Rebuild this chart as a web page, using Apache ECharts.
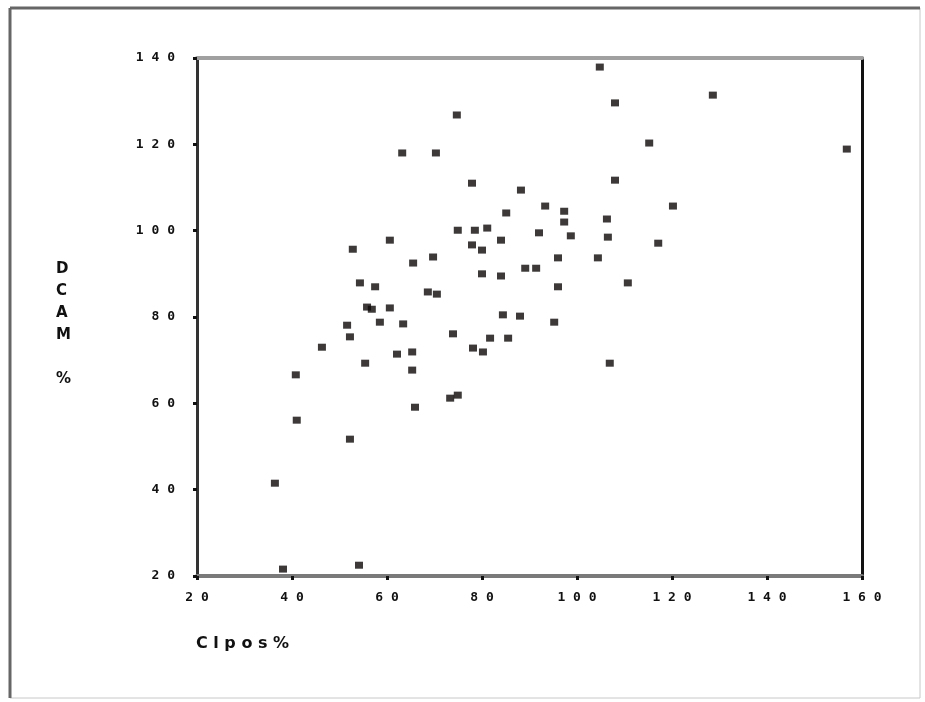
<!DOCTYPE html>
<html>
<head>
<meta charset="utf-8">
<script src="https://cdn.jsdelivr.net/npm/echarts@6/dist/echarts.min.js"></script>
<style>
html,body{margin:0;padding:0;background:#fff;}
#chart{width:925px;height:702px;}
</style>
</head>
<body>
<div id="chart"></div>
<script>
// Tick values
var xTicks = [20, 40, 60, 80, 100, 120, 140, 160];
var yTicks = [20, 40, 60, 80, 100, 120, 140];

// Clpos% (x) and DCAM % (y) values
var clpos = [104.8,108.0,128.6,74.7,115.2,63.2,70.3,156.8,
  77.9,88.2,108.0,120.2,93.3,97.3,97.3,85.1,106.3,
  74.9,78.5,81.1,84.0,77.9,80.0,92.0,98.7,106.5,117.1,
  60.6,52.8,65.5,69.7,96.0,104.4,80.0,84.0,89.1,91.4,
  96.0,110.7,54.3,57.5,68.6,70.5,55.8,56.8,60.6,
  58.5,63.4,51.6,52.2,73.9,84.4,88.0,95.2,81.7,85.5,
  78.1,80.2,46.3,62.1,65.3,55.4,65.3,106.9,40.8,
  41.0,65.9,73.3,74.9,52.2,36.4,38.1,54.1];
var dcam = [137.9,129.6,131.4,126.8,120.3,118.0,118.0,118.9,
  111.0,109.4,111.7,105.7,105.7,104.5,102.0,104.1,102.7,
  100.1,100.1,100.6,97.8,96.7,95.5,99.5,98.8,98.5,97.1,
  97.8,95.7,92.5,93.9,93.7,93.7,90.0,89.5,91.3,91.3,
  87.0,87.9,87.9,87.0,85.8,85.3,82.3,81.8,82.1,
  78.8,78.4,78.1,75.4,76.1,80.5,80.2,78.8,75.1,75.1,
  72.8,71.9,73.0,71.4,71.9,69.3,67.7,69.3,66.6,
  56.1,59.1,61.2,61.9,51.7,41.5,21.6,22.5];

var points = clpos.map(function (x, i) { return [x, dcam[i]]; });

var chart = echarts.init(document.getElementById('chart'), null, {renderer: 'canvas'});

var labelStyle = {
  fontFamily: 'DejaVu Sans Mono',
  fontWeight: 'bold',
  fontSize: 13,
  color: '#111',
  formatter: function (v) { return String(v).split('').join(' '); }
};

chart.setOption({
  backgroundColor: '#fff',
  animation: false,
  grid: {left: 197, top: 58, right: 63, bottom: 126, containLabel: false},
  xAxis: [{
    type: 'value', min: xTicks[0], max: xTicks[xTicks.length - 1], interval: 20,
    position: 'bottom',
    axisLine: {show: true, lineStyle: {color: '#7a7a7a', width: 4}},
    axisTick: {show: true, length: 4, lineStyle: {color: '#111', width: 3}},
    axisLabel: Object.assign({margin: 15}, labelStyle),
    splitLine: {show: false}
  }, {
    type: 'value', min: xTicks[0], max: xTicks[xTicks.length - 1], interval: 20,
    position: 'top',
    axisLine: {show: true, lineStyle: {color: '#a0a0a0', width: 4}},
    axisTick: {show: false}, axisLabel: {show: false}, splitLine: {show: false}
  }],
  yAxis: [{
    type: 'value', min: yTicks[0], max: yTicks[yTicks.length - 1], interval: 20,
    position: 'left',
    axisLine: {show: true, lineStyle: {color: '#333', width: 3}},
    axisTick: {show: true, length: 4, lineStyle: {color: '#111', width: 3}},
    axisLabel: Object.assign({margin: 22}, labelStyle),
    splitLine: {show: false}
  }, {
    type: 'value', min: yTicks[0], max: yTicks[yTicks.length - 1], interval: 20,
    position: 'right',
    axisLine: {show: true, lineStyle: {color: '#111', width: 3}},
    axisTick: {show: false}, axisLabel: {show: false}, splitLine: {show: false}
  }],
  series: [{
    type: 'scatter',
    xAxisIndex: 0, yAxisIndex: 0,
    data: points,
    symbol: 'rect',
    symbolSize: [8, 7],
    itemStyle: {color: '#0d0808'}
  }],
  graphic: [
    {type: 'rect', shape: {x: 10, y: 8, width: 910, height: 690},
     style: {fill: 'none', stroke: '#c8c8c8', lineWidth: 1}, silent: true},
    {type: 'line', shape: {x1: 10, y1: 8, x2: 920, y2: 8},
     style: {stroke: '#666', lineWidth: 3}, silent: true},
    {type: 'line', shape: {x1: 10, y1: 8, x2: 10, y2: 698},
     style: {stroke: '#666', lineWidth: 3}, silent: true},
    {type: 'text', left: 56, top: 258,
     style: {text: 'D\nC\nA\nM\n\n%', fontFamily: 'DejaVu Sans', fontWeight: 'bold',
             fontSize: 15, lineHeight: 22, fill: '#111', align: 'center'}},
    {type: 'text', left: 196, top: 636,
     style: {text: 'C l p o s %', fontFamily: 'DejaVu Sans', fontWeight: 'bold',
             fontSize: 16, fill: '#111'}}
  ]
});
</script>
</body>
</html>
